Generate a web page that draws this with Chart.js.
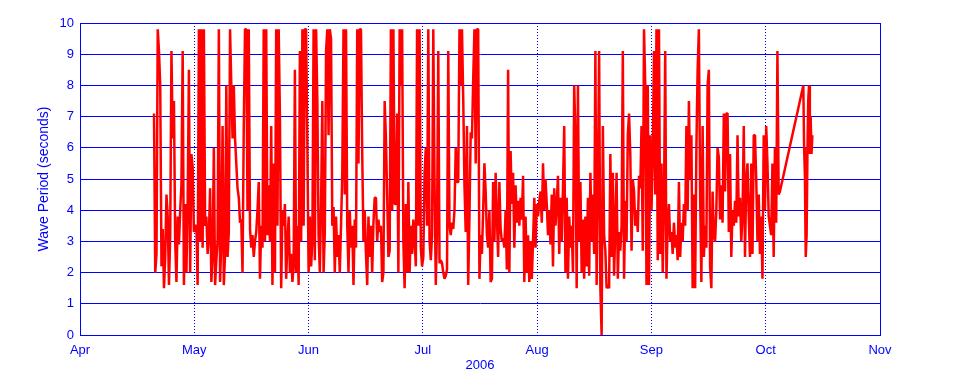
<!DOCTYPE html>
<html>
<head>
<meta charset="utf-8">
<script src="https://cdn.jsdelivr.net/npm/chart.js@4/dist/chart.umd.min.js"></script>
<style>
  html, body { margin: 0; padding: 0; background: #fff; }
  #wrap { width: 960px; height: 384px; position: relative; }
</style>
</head>
<body>
<div id="wrap"><canvas id="waveChart"></canvas></div>
<script>
// month labels on the x axis (0 = 1 Apr, 7 = 1 Nov)
const monthLabels = ['Apr', 'May', 'Jun', 'Jul', 'Aug', 'Sep', 'Oct', 'Nov'];
const yearLabel = '2006';

// regular record: first sample time (months after 1 Apr) and sampling interval
const startMonth = 0.6475;
const stepMonth = 0.01091;

// wave period (seconds), one value per sample
const wavePeriod = [
  7.1, 2.0, 2.6, 9.8, 9.1, 8.0, 2.2, 3.4, 1.5, 2.5,
  4.5, 3.8, 1.6, 3.2, 9.1, 6.3, 7.5, 3.0, 1.7, 3.8,
  2.9, 4.0, 4.8, 9.1, 1.6, 4.2, 2.0, 4.2, 8.5, 2.0,
  5.8, 5.4, 3.3, 3.5, 3.5, 1.6, 9.8, 3.0, 9.8, 2.8,
  9.8, 3.5, 3.8, 2.6, 3.2, 4.7, 1.7, 2.5, 6.0, 1.6,
  2.4, 3.0, 9.8, 1.7, 3.0, 6.7, 1.6, 2.6, 8.0, 2.5,
  3.3, 9.8, 8.0, 6.3, 8.0, 6.3, 5.5, 4.7, 4.4, 3.6,
  3.7, 2.0, 6.7, 9.8, 9.8, 4.0, 9.8, 3.4, 2.8, 3.2,
  2.5, 3.0, 3.3, 4.0, 4.9, 1.8, 3.5, 2.8, 9.8, 3.0,
  9.8, 3.2, 4.8, 3.0, 6.7, 1.6, 5.5, 2.0, 9.8, 3.5,
  9.8, 7.0, 1.5, 4.0, 3.5, 4.2, 1.8, 3.0, 3.8, 2.0,
  2.6, 1.7, 2.2, 8.5, 2.0, 3.5, 1.6, 9.1, 3.0, 9.8,
  3.5, 9.8, 9.8, 6.1, 2.0, 3.8, 2.2, 3.0, 9.8, 2.4,
  9.8, 7.5, 3.2, 2.0, 4.2, 7.5, 2.0, 3.3, 9.1, 9.8,
  6.4, 9.8, 9.5, 3.5, 4.1, 2.0, 3.8, 2.5, 3.2, 2.0,
  3.5, 5.2, 9.8, 4.5, 9.8, 3.5, 2.0, 4.0, 2.8, 3.5,
  1.6, 3.7, 2.8, 9.8, 5.5, 9.8, 9.8, 5.8, 3.0, 4.0,
  2.6, 1.6, 3.8, 2.5, 3.5, 2.0, 3.6, 4.4, 4.4, 3.0,
  3.7, 3.3, 3.5, 1.7, 2.0, 7.5, 6.3, 4.5, 2.5, 2.7,
  9.8, 4.0, 9.8, 4.2, 4.2, 7.1, 2.0, 9.8, 8.0, 9.8,
  3.0, 1.5, 4.2, 2.0, 4.9, 2.0, 3.5, 2.6, 3.7, 3.0,
  2.2, 9.8, 3.5, 9.8, 2.8, 2.2, 2.5, 5.2, 6.0, 3.5,
  9.8, 3.0, 2.4, 3.2, 9.8, 4.9, 1.6, 3.5, 9.1, 2.3,
  2.4, 2.3, 2.0, 1.8, 1.9, 2.1, 9.1, 3.5, 3.2, 3.6,
  3.4, 4.0, 6.0, 4.9, 4.9, 9.8, 8.0, 9.8, 7.6, 4.8,
  3.3, 6.7, 1.6, 3.8, 6.5, 6.3, 8.2, 9.8, 5.5, 9.8,
  9.8, 1.8, 3.2, 2.6, 4.0, 5.5, 4.6, 3.2, 2.8, 4.0,
  1.7, 1.8, 4.9, 3.0, 5.2, 3.8, 2.5, 4.9, 3.4, 3.0,
  3.1, 2.8, 4.0, 2.1, 8.5, 2.0, 5.9, 4.2, 5.2, 2.8,
  4.8, 3.6, 4.3, 3.5, 4.4, 3.7, 5.1, 1.7, 3.8, 2.0,
  3.2, 1.7, 3.0, 1.8, 3.0, 4.4, 2.8, 4.2, 3.8, 4.3,
  4.6, 3.6, 5.5, 4.0, 5.0, 4.2, 3.2, 4.0, 2.9, 4.5,
  2.2, 4.7, 3.5, 4.2, 5.1, 2.6, 4.4, 3.0, 4.7, 6.7,
  2.0, 4.4, 1.8, 3.8, 2.8, 3.5, 2.0, 8.0, 6.4, 1.5,
  8.0, 3.0, 4.9, 2.0, 3.7, 1.8, 3.8, 2.2, 4.4, 1.9,
  5.2, 3.0, 4.5, 2.6, 9.1, 1.6, 4.8, 9.1, 1.5, 0.0,
  6.7, 3.2, 2.7, 1.5, 1.6, 1.5, 5.8, 2.5, 5.2, 1.9,
  3.5, 5.2, 1.8, 3.3, 2.7, 3.5, 9.1, 1.8, 4.3, 3.0,
  6.4, 7.1, 5.8, 2.7, 5.0, 4.6, 3.5, 4.0, 3.3, 5.1,
  4.7, 6.7, 2.7, 9.8, 8.0, 1.6, 8.0, 1.6, 6.4, 4.0,
  5.8, 9.1, 4.5, 9.8, 2.4, 9.8, 2.6, 5.5, 2.0, 4.2,
  9.1, 1.8, 3.6, 4.2, 3.0, 3.3, 2.6, 3.6, 2.8, 3.2,
  2.4, 4.9, 2.5, 3.6, 3.0, 4.2, 3.5, 6.7, 4.0, 7.5,
  5.0, 6.4, 1.5, 4.5, 1.5, 6.0, 8.5, 9.8, 4.5, 1.7,
  6.7, 2.5, 3.5, 2.8, 8.0, 8.5, 2.2, 1.5, 4.6, 3.2,
  3.0, 4.0, 6.0, 5.7, 3.7, 4.8, 3.6, 7.1, 4.6, 7.1,
  7.1, 3.3, 5.8, 2.5, 4.0, 3.5, 4.3, 3.6, 6.4, 3.8,
  4.4, 3.0, 3.8, 6.7, 2.5, 5.0, 5.5, 3.8, 2.5, 5.5,
  2.6, 6.4, 6.4, 5.0, 3.0, 4.5, 2.6, 3.8, 1.8, 6.4,
  4.0, 6.7, 5.5, 3.8, 3.5, 3.2, 5.5, 2.5, 6.0, 3.6,
  9.1, 4.5, 4.6
];

// samples after the October data gap (times in months after 1 Apr)
const lateMonths = [6.329, 6.336, 6.343, 6.350, 6.358, 6.365, 6.372, 6.379, 6.386, 6.393, 6.401, 6.408];
const latePeriod = [8.0, 6.0, 5.1, 2.5, 3.2, 5.8, 7.5, 8.0, 5.8, 7.0, 5.8, 6.4];

document.addEventListener('DOMContentLoaded', function() {
  const blue = '#0000ff';
  const red = '#ff0000';
  const font = { family: 'Liberation Sans', size: 13 };

  const points = wavePeriod.map(function(v, i) {
    return { x: startMonth + i * stepMonth, y: v };
  }).concat(lateMonths.map(function(m, i) {
    return { x: m, y: latePeriod[i] };
  }));

  // solid frame round the plot area
  const framePlugin = {
    id: 'frame',
    beforeDatasetsDraw: function(chart) {
      const a = chart.chartArea;
      const c = chart.ctx;
      c.save();
      c.strokeStyle = blue;
      c.lineWidth = 1;
      c.setLineDash([]);
      c.strokeRect(Math.round(a.left) + 0.5, Math.round(a.top) + 0.5,
        Math.round(a.right - a.left), Math.round(a.bottom - a.top));
      c.restore();
    }
  };

  const ctx = document.getElementById('waveChart').getContext('2d');
  new Chart(ctx, {
    type: 'line',
    data: {
      datasets: [{
        label: 'Wave Period',
        data: points,
        borderColor: red,
        borderWidth: 2.5,
        borderJoinStyle: 'bevel',
        pointRadius: 0,
        fill: false,
        tension: 0
      }]
    },
    options: {
      responsive: true,
      maintainAspectRatio: false,
      animation: false,
      layout: { padding: { top: 23, right: 80, bottom: 0, left: 0 } },
      plugins: {
        legend: { display: false },
        tooltip: { enabled: false }
      },
      scales: {
        x: {
          type: 'linear',
          min: 0,
          max: monthLabels.length - 1,
          afterBuildTicks: function(scale) {
            scale.ticks = monthLabels.map(function(_, i) { return { value: i }; });
          },
          afterFit: function(scale) { scale.height = 49; },
          ticks: {
            color: blue,
            font: font,
            padding: 8,
            autoSkip: false,
            maxRotation: 0,
            callback: function(value) { return monthLabels[value]; }
          },
          grid: {
            color: function(c) {
              return (c.index === 0 || c.index === monthLabels.length - 1) ? 'rgba(0,0,0,0)' : blue;
            },
            drawTicks: false
          },
          border: { color: blue, dash: [1, 2] },
          title: {
            display: true,
            text: yearLabel,
            color: blue,
            font: font,
            padding: { top: 0, bottom: 11 }
          }
        },
        y: {
          min: 0,
          max: 10,
          afterFit: function(scale) { scale.width = 80; },
          ticks: {
            stepSize: 1,
            color: blue,
            font: font,
            padding: 6
          },
          grid: { color: blue, drawTicks: false },
          border: { color: blue },
          title: {
            display: true,
            text: 'Wave Period (seconds)',
            color: blue,
            font: { family: 'Liberation Sans', size: 14 },
            padding: { top: 36, bottom: 0 }
          }
        }
      }
    },
    plugins: [framePlugin]
  });
});
</script>
</body>
</html>
